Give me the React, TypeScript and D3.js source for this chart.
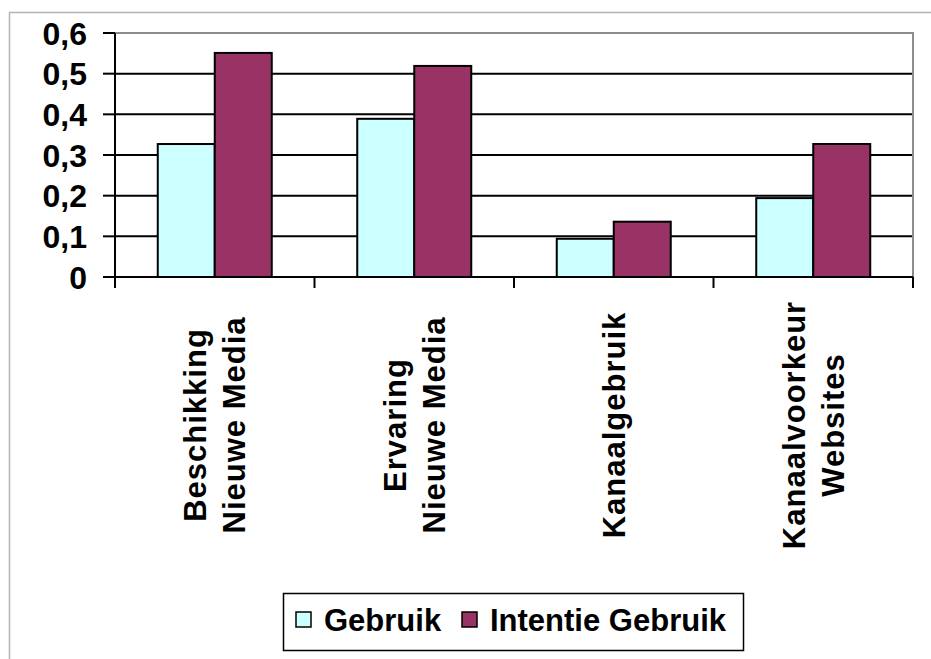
import { useEffect, useRef } from 'react'
import * as d3 from 'd3'

const categories = [
  ['Beschikking', 'Nieuwe Media'],
  ['Ervaring', 'Nieuwe Media'],
  ['Kanaalgebruik'],
  ['Kanaalvoorkeur', 'Websites']
]
const seriesNames = ['Gebruik', 'Intentie Gebruik']
const gebruik = [0.327, 0.389, 0.094, 0.194]
const intentieGebruik = [0.551, 0.519, 0.136, 0.327]
const yTicks = [0, 0.1, 0.2, 0.3, 0.4, 0.5, 0.6]
const colors = ['#CCFFFF', '#993366']

export default function App() {
  const svgRef = useRef<SVGSVGElement>(null)

  useEffect(() => {
    if (!svgRef.current) return
    const svg = d3.select(svgRef.current)
    svg.selectAll('*').remove()

    const W = 931
    const H = 659
    const font = 'Arial, "Liberation Sans", sans-serif'
    const plot = { left: 115, top: 33, right: 913, bottom: 277 }

    svg.attr('width', W).attr('height', H)

    // outer chart frame
    svg.append('rect')
      .attr('x', 9.5).attr('y', 12.5)
      .attr('width', W + 20).attr('height', H + 20)
      .attr('fill', 'white')
      .attr('stroke', '#b4b4b4')
      .attr('stroke-width', 1.5)

    const labels = categories.map(c => c.join(' '))
    const x0 = d3.scaleBand<string>()
      .domain(labels)
      .range([plot.left, plot.right])
      .padding(0)

    // Excel style gap width 150%
    const bw = x0.bandwidth()
    const barW = bw / 3.5
    const x1 = d3.scaleBand<string>()
      .domain(seriesNames)
      .range([(bw - 2 * barW) / 2, (bw + 2 * barW) / 2])
      .padding(0)

    const y = d3.scaleLinear().domain([0, 0.6]).range([plot.bottom, plot.top])

    // gridlines
    svg.append('g')
      .selectAll('line')
      .data(yTicks.filter(t => t > 0 && t < 0.6))
      .enter().append('line')
      .attr('x1', plot.left).attr('x2', plot.right)
      .attr('y1', d => y(d)).attr('y2', d => y(d))
      .attr('stroke', '#000')
      .attr('stroke-width', 2)

    // plot area border (top & right, gray)
    svg.append('path')
      .attr('d', `M${plot.left},${y(0.6)}H${plot.right}V${plot.bottom}`)
      .attr('fill', 'none')
      .attr('stroke', '#8c8c8c')
      .attr('stroke-width', 2)

    // bars
    const values = [gebruik, intentieGebruik]
    const data = labels.flatMap((lab, i) =>
      seriesNames.map((s, j) => ({ lab, s, v: values[j][i], c: colors[j] }))
    )
    svg.append('g')
      .selectAll('rect')
      .data(data)
      .enter().append('rect')
      .attr('x', d => x0(d.lab)! + x1(d.s)!)
      .attr('y', d => y(d.v))
      .attr('width', x1.bandwidth())
      .attr('height', d => y(0) - y(d.v))
      .attr('fill', d => d.c)
      .attr('stroke', '#000')
      .attr('stroke-width', 2)

    // y axis
    const yAxis = svg.append('g')
    yAxis.append('line')
      .attr('x1', plot.left).attr('x2', plot.left)
      .attr('y1', plot.top).attr('y2', plot.bottom)
      .attr('stroke', '#000').attr('stroke-width', 2)
    yAxis.selectAll('line.tick')
      .data(yTicks)
      .enter().append('line')
      .attr('class', 'tick')
      .attr('x1', plot.left - 12).attr('x2', plot.left)
      .attr('y1', d => y(d)).attr('y2', d => y(d))
      .attr('stroke', '#000').attr('stroke-width', 2)
    yAxis.selectAll('text')
      .data(yTicks)
      .enter().append('text')
      .attr('x', 87)
      .attr('y', d => y(d))
      .attr('dy', '0.36em')
      .attr('text-anchor', 'end')
      .style('font-family', font)
      .style('font-weight', 'bold')
      .style('font-size', '32px')
      .text(d => (d === 0 ? '0' : d3.format('.1f')(d).replace('.', ',')))

    // x axis
    const xAxis = svg.append('g')
    xAxis.append('line')
      .attr('x1', plot.left).attr('x2', plot.right)
      .attr('y1', plot.bottom).attr('y2', plot.bottom)
      .attr('stroke', '#000').attr('stroke-width', 2)
    const tickXs = labels.map(l => x0(l)!).concat([plot.right])
    xAxis.selectAll('line.tick')
      .data(tickXs)
      .enter().append('line')
      .attr('class', 'tick')
      .attr('x1', d => d).attr('x2', d => d)
      .attr('y1', plot.bottom).attr('y2', plot.bottom + 11)
      .attr('stroke', '#000').attr('stroke-width', 2)

    const lineH = 39
    categories.forEach((lines, i) => {
      const cx = x0(labels[i])! + bw / 2
      lines.forEach((ln, k) => {
        const off = (k - (lines.length - 1) / 2) * lineH
        xAxis.append('text')
          .attr('transform', `translate(${cx + off},425) rotate(-90)`)
          .attr('text-anchor', 'middle')
          .attr('dy', '0.36em')
          .style('font-family', font)
          .style('font-weight', 'bold')
          .style('font-size', '31px')
          .style('letter-spacing', '1px')
          .text(ln)
      })
    })

    // legend
    const legend = svg.append('g')
    legend.append('rect')
      .attr('x', 283.5).attr('y', 593.5)
      .attr('width', 460).attr('height', 57)
      .attr('fill', 'white')
      .attr('stroke', '#000')
      .attr('stroke-width', 1.5)
    const itemX = [296, 462]
    seriesNames.forEach((s, j) => {
      legend.append('rect')
        .attr('x', itemX[j]).attr('y', 612)
        .attr('width', 15).attr('height', 15)
        .attr('fill', colors[j])
        .attr('stroke', '#000')
        .attr('stroke-width', 1.5)
      legend.append('text')
        .attr('x', itemX[j] + 28)
        .attr('y', 620)
        .attr('dy', '0.36em')
        .style('font-family', font)
        .style('font-weight', 'bold')
        .style('font-size', '31px')
        .text(s)
    })
  }, [])

  return (
    <div style={{ position: 'absolute', left: 0, top: 0 }}>
      <svg ref={svgRef} style={{ display: 'block' }}></svg>
    </div>
  )
}
